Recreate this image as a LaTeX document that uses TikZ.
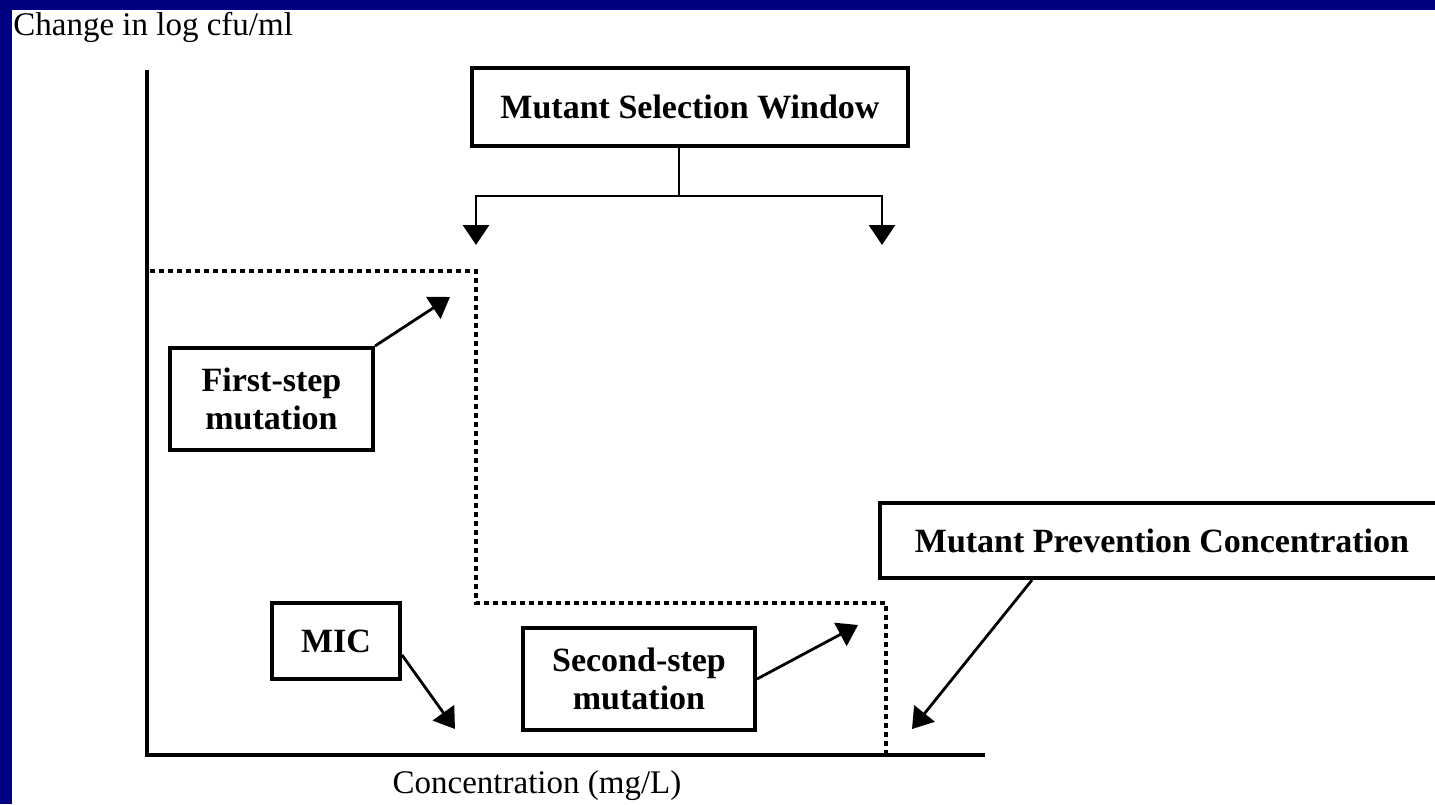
\documentclass[tikz,border=0pt]{standalone}
\usepackage{fontspec}
\setmainfont{Liberation Serif}
\usepackage{xcolor}
\usepackage{tikz}
\usetikzlibrary{positioning,calc,arrows.meta}
\definecolor{slidenavy}{RGB}{0,0,128}

\begin{document}
\begin{tikzpicture}[x=0.5pt,y=-0.5pt, line join=miter, font=\fontsize{16.5}{19}\selectfont]
	% ===== frame =====
	\useasboundingbox (0,0) rectangle (1435,804);
	\fill[slidenavy] (0,0) rectangle (1435,804);
	\fill[white] (12,10) rectangle (1435,804);
	
	% ===== styles =====
	\tikzset{lbl/.style={draw=black, fill=white, line width=2pt, inner sep=0pt, align=center,
			font=\bfseries\fontsize{17}{19}\selectfont},
		arr/.style={line width=1.4pt, -{Triangle[length=10pt,width=13pt]}},
		dotline/.style={line width=2.3pt, dash pattern=on 2.3pt off 2.2pt}}
	
	% ===== axes =====
	\draw[line width=2pt] (147,70) -- (147,757);
	\draw[line width=2pt] (145,755) -- (985,755);
	\node[anchor=base west, inner sep=0pt] (ylab) at (13,35) {Change in log cfu/ml};
	\node[anchor=base, inner sep=0pt] (xlab) at (537,793) {Concentration (mg/L)};
	
	% ===== dotted steps =====
	\draw[dotline] (150,271) -- (476,271) -- (476,603) -- (886,603) -- (886,755);
	
	% ===== boxes =====
	\node[lbl, minimum width=218pt, minimum height=39pt] (msw) at (690,107) {Mutant Selection Window};
	\node[lbl, minimum width=101.5pt, minimum height=51pt] (first) at (271.5,399) {First-step\\mutation};
	\node[lbl, minimum width=64pt, minimum height=38pt] (mic) at (336,641) {MIC};
	\node[lbl, minimum width=116pt, minimum height=51pt] (second) at (639,679) {Second-step\\mutation};
	\node[lbl, minimum width=282.5pt, minimum height=37.5pt] (mpc) at (1162,540.5) {Mutant Prevention Concentration};
	
	% ===== arrow ends =====
	\coordinate (fork) at (679,196);
	\coordinate (mswL) at (476,245);
	\coordinate (mswR) at (882,245);
	\coordinate (firstTip) at (450,297);
	\coordinate (micTip) at (455,729);
	\coordinate (secondTip) at (858,625);
	\coordinate (mpcTip) at (912,729);
	
	% ===== connectors =====
	\draw[line width=1.4pt] (msw.south -| fork) -- (fork);
	\foreach \t in {mswL,mswR}{
		\draw[arr] (fork) -| (\t);
	}
	\draw[arr] (first.north east) -- (firstTip);
	\draw[arr] ([yshift=-7pt]mic.east) -- (micTip);
	\draw[arr] (second.east) -- (secondTip);
	\draw[arr] ([xshift=-65pt]mpc.south) -- (mpcTip);
\end{tikzpicture}
\end{document}
